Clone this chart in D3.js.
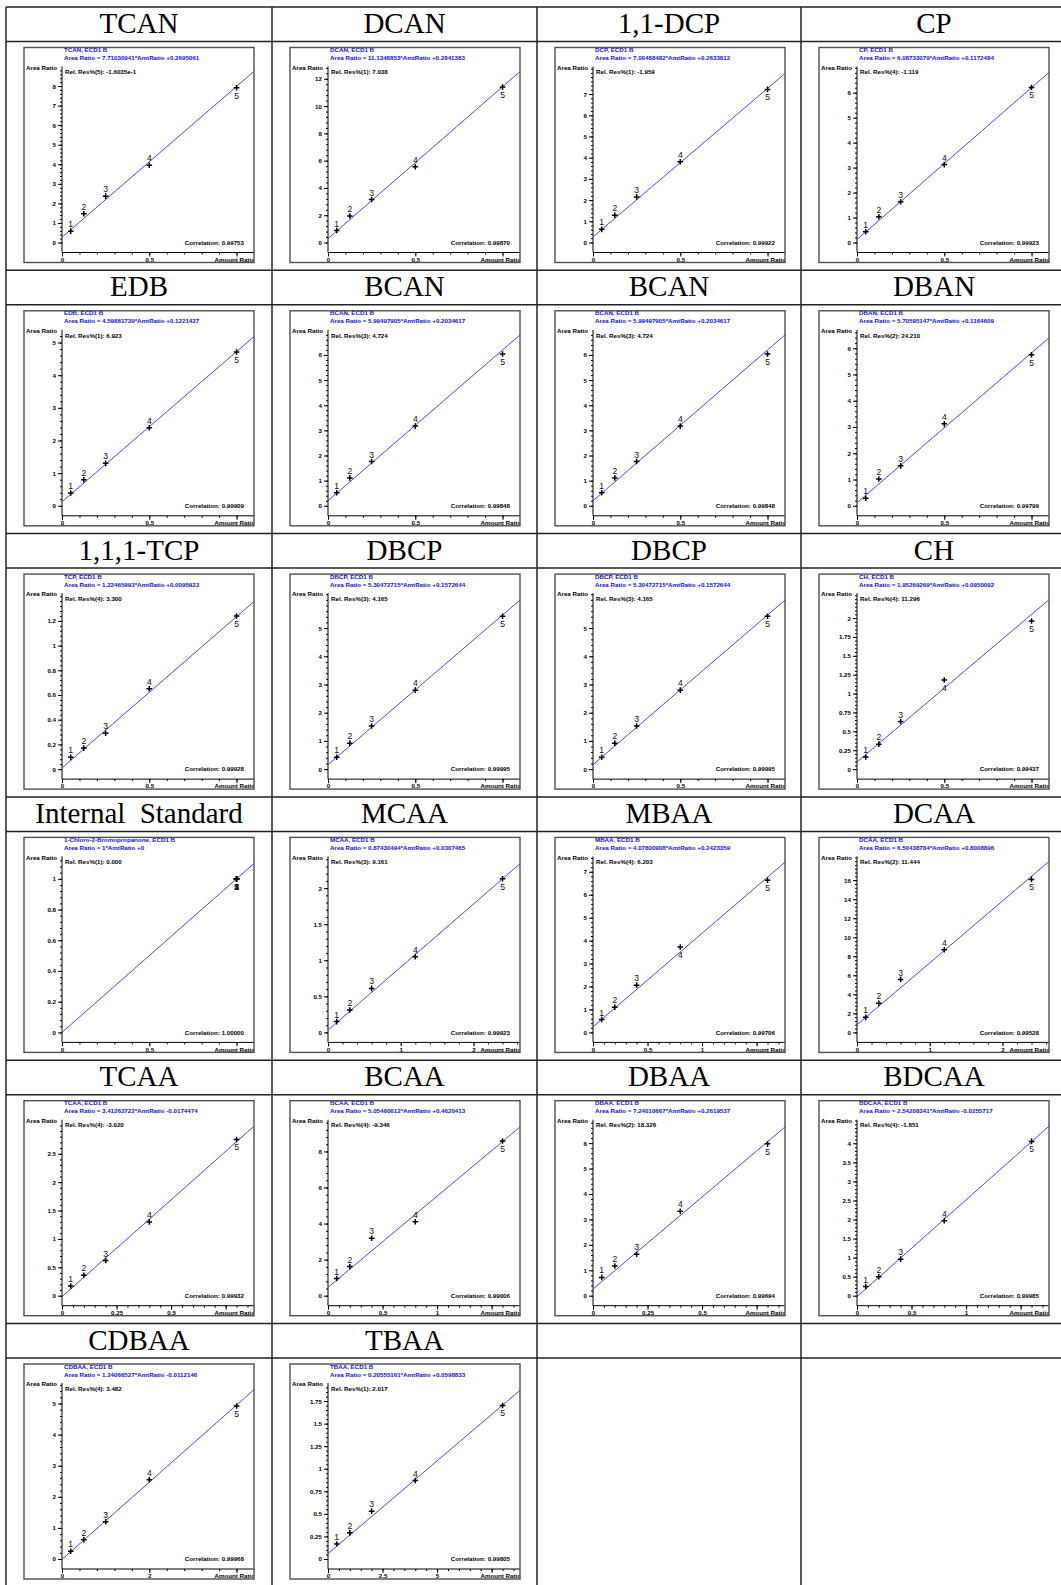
<!DOCTYPE html>
<html>
<head>
<meta charset="utf-8">
<script src="https://d3js.org/d3.v7.min.js"></script>
<style>
  body { margin: 0; background: #fff; }
  svg { display: block; }
</style>
</head>
<body>
<div id="chart"></div>
<script>
// headers of the table cells, in reading order
const names = ["TCAN", "DCAN", "1,1-DCP", "CP",
  "EDB", "BCAN", "BCAN", "DBAN",
  "1,1,1-TCP", "DBCP", "DBCP", "CH",
  "Internal Standard", "MCAA", "MBAA", "DCAA",
  "TCAA", "BCAA", "DBAA", "BDCAA",
  "CDBAA", "TBAA"];

// compound name printed in each plot title
const compounds = ["TCAN", "DCAN", "DCP", "CP",
  "EDB", "BCAN", "BCAN", "DBAN",
  "TCP", "DBCP", "DBCP", "CH",
  "1-Chloro-2-Bromopropanone", "MCAA", "MBAA", "DCAA",
  "TCAA", "BCAA", "DBAA", "BDCAA",
  "CDBAA", "TBAA"];

// fitted line: Area Ratio = slope*AmtRatio + intercept
const slopes = [7.71030941, 11.1348853, 7.00488482, 6.08733079,
  4.59881739, 5.99497905, 5.99497905, 5.70595147,
  1.22465993, 5.30472715, 5.30472715, 1.95269269,
  1, 0.87430494, 4.07800908, 6.50438784,
  3.41263722, 5.05460612, 7.24010667, 2.54208341,
  1.24066527, 0.20555161];
const intercepts = [0.2695061, 0.2841383, 0.2633812, 0.1172484,
  0.1221427, 0.2034617, 0.2034617, 0.1164609,
  0.0095923, 0.1572644, 0.1572644, 0.0950092,
  0, 0.0307465, 0.2423359, 0.8008896,
  -0.0174474, 0.4620413, 0.2619537, -0.0255717,
  -0.0112146, 0.0598833];

const relRes = ["Rel. Res%(5): -1.6035e-1", "Rel. Res%(1): 7.038", "Rel. Res%(1): -1.959", "Rel. Res%(4): -1.119",
  "Rel. Res%(1): 6.923", "Rel. Res%(3): 4.724", "Rel. Res%(3): 4.724", "Rel. Res%(2): 24.210",
  "Rel. Res%(4): 3.300", "Rel. Res%(3): 4.165", "Rel. Res%(3): 4.165", "Rel. Res%(4): 11.296",
  "Rel. Res%(1): 0.000", "Rel. Res%(3): 9.161", "Rel. Res%(4): 6.203", "Rel. Res%(2): 11.444",
  "Rel. Res%(4): -3.020", "Rel. Res%(4): -9.346", "Rel. Res%(2): 18.326", "Rel. Res%(4): -1.851",
  "Rel. Res%(4): 3.482", "Rel. Res%(1): 2.017"];

const correlations = ["0.99753", "0.99870", "0.99922", "0.99923",
  "0.99909", "0.99848", "0.99848", "0.99799",
  "0.99928", "0.99995", "0.99995", "0.99437",
  "1.00000", "0.99923", "0.99706", "0.99528",
  "0.99932", "0.99006", "0.99694", "0.99985",
  "0.99968", "0.99805"];

// calibration levels (amount ratio) and measured area ratios
const xPoints = [
  [0.05, 0.125, 0.25, 0.5, 1], [0.05, 0.125, 0.25, 0.5, 1], [0.05, 0.125, 0.25, 0.5, 1], [0.05, 0.125, 0.25, 0.5, 1],
  [0.05, 0.125, 0.25, 0.5, 1], [0.05, 0.125, 0.25, 0.5, 1], [0.05, 0.125, 0.25, 0.5, 1], [0.05, 0.125, 0.25, 0.5, 1],
  [0.05, 0.125, 0.25, 0.5, 1], [0.05, 0.125, 0.25, 0.5, 1], [0.05, 0.125, 0.25, 0.5, 1], [0.05, 0.125, 0.25, 0.5, 1],
  [1, 1, 1, 1, 1], [0.12, 0.3, 0.6, 1.2, 2.4], [0.08, 0.2, 0.4, 0.8, 1.6], [0.12, 0.3, 0.6, 1.2, 2.4],
  [0.04, 0.1, 0.2, 0.4, 0.8], [0.08, 0.2, 0.4, 0.8, 1.6], [0.04, 0.1, 0.2, 0.4, 0.8], [0.08, 0.2, 0.4, 0.8, 1.6],
  [0.2, 0.5, 1, 2, 4], [0.4, 1, 2, 4, 8]];
const yPoints = [
  [0.58, 1.47, 2.37, 3.95, 7.91], [0.88, 1.94, 3.15, 5.55, 11.4], [0.62, 1.29, 2.15, 3.81, 7.22], [0.43, 1.03, 1.63, 3.12, 6.21],
  [0.39, 0.80, 1.30, 2.39, 4.71], [0.52, 1.11, 1.76, 3.17, 6.04], [0.52, 1.11, 1.76, 3.17, 6.04], [0.29, 1.02, 1.52, 3.12, 5.75],
  [0.095, 0.17, 0.29, 0.65, 1.24], [0.42, 0.92, 1.53, 2.80, 5.42], [0.42, 0.92, 1.53, 2.80, 5.42], [0.16, 0.33, 0.63, 1.18, 1.96],
  [1, 1, 1, 1, 1], [0.15, 0.31, 0.61, 1.05, 2.13], [0.56, 1.10, 2.06, 3.72, 6.63], [1.58, 3.06, 5.57, 8.69, 16.08],
  [0.17, 0.36, 0.62, 1.30, 2.75], [0.95, 1.62, 3.19, 4.10, 8.58], [0.72, 1.17, 1.63, 3.32, 5.97], [0.24, 0.50, 0.96, 1.97, 4.05],
  [0.25, 0.62, 1.20, 2.55, 4.92], [0.166, 0.29, 0.53, 0.87, 1.70]];

// point numbers whose label sits under the marker
const labelsBelow = [[5], [5], [5], [5], [5], [5], [5], [5], [5], [5], [5], [4, 5],
  [1, 2, 3, 4, 5], [5], [4, 5], [5], [5], [5], [5], [5], [5], [5]];

// axis extents and major tick steps
const xMaxes = [1.1, 1.1, 1.1, 1.1, 1.1, 1.1, 1.1, 1.1, 1.1, 1.1, 1.1, 1.1,
  1.1, 2.64, 1.76, 2.64, 0.88, 1.76, 0.88, 1.76, 4.4, 8.8];
const yTops = [9.0, 12.9, 8.3, 7.05, 5.39, 7.0, 7.0, 6.7, 1.425, 6.24, 6.24, 2.33,
  1.146, 2.44, 7.67, 18.5, 3.1, 9.76, 6.92, 4.62, 5.66, 1.95];
const xSteps = [0.5, 0.5, 0.5, 0.5, 0.5, 0.5, 0.5, 0.5, 0.5, 0.5, 0.5, 0.5,
  0.5, 1, 0.5, 1, 0.25, 0.5, 0.25, 0.5, 2, 2.5];
const ySteps = [1, 2, 1, 1, 1, 1, 1, 1, 0.2, 1, 1, 0.25,
  0.2, 0.5, 1, 2, 0.5, 2, 1, 0.5, 1, 0.25];

// page layout
const W = 1061, H = 1585;
const colX = [6, 272, 537, 801, 1067];
const rowY0 = 7, rowPitch = 263.3, headH = 34.5;
const boxW = 230, boxH = 215;
const axX = 38, topY = 19, zeroY = boxH - 20, axisY = boxH - 10;
const smallFont = "Liberation Sans, Arial, sans-serif";
const blue = "#1010f0";

const svg = d3.select("#chart").append("svg")
  .attr("width", W).attr("height", H);
svg.append("rect").attr("width", W).attr("height", H).attr("fill", "#fff");

// table grid
const nRows = 6;
const grid = svg.append("g").attr("stroke", "#222").attr("stroke-width", 1.5);
for (let r = 0; r < nRows; r++) {
  const top = rowY0 + r * rowPitch;
  grid.append("line").attr("x1", colX[0]).attr("x2", colX[4]).attr("y1", top).attr("y2", top);
  grid.append("line").attr("x1", colX[0]).attr("x2", colX[4]).attr("y1", top + headH).attr("y2", top + headH);
}
colX.forEach(cx => {
  grid.append("line").attr("x1", cx).attr("x2", cx).attr("y1", rowY0).attr("y2", H);
});

const fmt = d3.format("~g");

names.forEach((name, i) => {
  const col = i % 4, row = Math.floor(i / 4);
  const rowTop = rowY0 + row * rowPitch;

  // header cell
  svg.append("text")
    .attr("x", (colX[col] + colX[col + 1]) / 2)
    .attr("y", rowTop + 26)
    .attr("text-anchor", "middle")
    .attr("font-family", "Liberation Serif, Times New Roman, serif")
    .attr("font-size", 29)
    .attr("word-spacing", name.includes(" ") ? 7 : 0)
    .text(name);

  const g = svg.append("g")
    .attr("transform", `translate(${colX[col] + 18},${rowTop + headH + 6})`)
    .attr("font-family", smallFont);

  const clipId = "clip" + i, plotClip = "pclip" + i;
  g.append("clipPath").attr("id", clipId)
    .append("rect").attr("width", boxW).attr("height", boxH);
  g.append("clipPath").attr("id", plotClip)
    .append("rect").attr("x", axX).attr("y", 0).attr("width", boxW - axX).attr("height", axisY);

  const inner = g.append("g").attr("clip-path", `url(#${clipId})`);

  const x = d3.scaleLinear().domain([0, xMaxes[i]]).range([axX, boxW]);
  const y = d3.scaleLinear().domain([0, yTops[i]]).range([zeroY, topY]);

  // y axis
  const yMajor = d3.range(0, yTops[i], ySteps[i]).map(v => +v.toFixed(6))
    .filter(v => y(v) >= topY + 8);
  const yMinor = d3.range(0, yTops[i], ySteps[i] / 5).map(v => +v.toFixed(6));
  const yAx = inner.append("g").attr("transform", `translate(${axX},0)`);
  yAx.append("g").call(d3.axisLeft(y).tickValues(yMinor).tickSize(2).tickFormat(""))
    .call(a => a.select(".domain").remove());
  yAx.append("g").call(d3.axisLeft(y).tickValues(yMajor).tickSize(4).tickPadding(2).tickFormat(fmt))
    .call(a => a.select(".domain").remove())
    .call(a => a.selectAll("text").attr("font-size", 6.2).attr("font-weight", "bold").attr("font-family", smallFont));

  // x axis
  const xMajor = d3.range(0, xMaxes[i], xSteps[i]).map(v => +v.toFixed(6));
  const xMinor = d3.range(0, xMaxes[i], xSteps[i] / 5).map(v => +v.toFixed(6));
  const xAx = inner.append("g").attr("transform", `translate(0,${axisY})`);
  xAx.append("g").call(d3.axisBottom(x).tickValues(xMinor).tickSize(2).tickFormat(""))
    .call(a => a.select(".domain").remove());
  xAx.append("g").call(d3.axisBottom(x).tickValues(xMajor).tickSize(4).tickPadding(1)
      .tickFormat(v => (x(v) + 3 > boxW - 42) ? "" : fmt(v)))
    .call(a => a.select(".domain").remove())
    .call(a => a.selectAll("text").attr("font-size", 6.2).attr("font-weight", "bold").attr("font-family", smallFont));

  inner.append("line").attr("x1", axX).attr("x2", axX).attr("y1", topY).attr("y2", axisY)
    .attr("stroke", "#000");
  inner.append("line").attr("x1", axX).attr("x2", boxW).attr("y1", axisY).attr("y2", axisY)
    .attr("stroke", "#000");

  // texts
  const txt = (tx, ty, s, color, anchor) => inner.append("text")
    .attr("x", tx).attr("y", ty)
    .attr("font-size", 6.2).attr("font-weight", "bold")
    .attr("fill", color).attr("text-anchor", anchor || "start")
    .text(s);
  const b = intercepts[i];
  txt(40, 4.6, compounds[i] + ", ECD1 B", blue);
  txt(40, 12.6, "Area Ratio = " + slopes[i] + "*AmtRatio " + (b < 0 ? "" : "+") + b, blue);
  txt(2, 22.3, "Area Ratio", "#000");
  txt(41, 26.8, relRes[i], "#000");
  txt(220, zeroY + 2.2, "Correlation: " + correlations[i], "#000", "end");
  txt(boxW + 1, axisY + 9.4, "Amount Ratio", "#000", "end");

  // fitted line
  inner.append("g").attr("clip-path", `url(#${plotClip})`)
    .append("path")
    .datum([0, xMaxes[i]])
    .attr("d", d3.line().x(d => x(d)).y(d => y(slopes[i] * d + b)))
    .attr("stroke", "#4646ff").attr("stroke-width", 1).attr("fill", "none");

  // calibration points
  const pts = xPoints[i].map((xv, k) => ({ x: xv, y: yPoints[i][k], n: k + 1 }));
  inner.selectAll("path.pt").data(pts).enter().append("path")
    .attr("class", "pt")
    .attr("d", d => {
      const px = x(d.x), py = y(d.y);
      return `M${px - 2.8},${py}h5.6M${px},${py - 2.8}v5.6`;
    })
    .attr("stroke", "#000").attr("stroke-width", 1.5);
  inner.selectAll("text.lbl").data(pts).enter().append("text")
    .attr("class", "lbl")
    .attr("x", d => x(d.x))
    .attr("y", d => labelsBelow[i].includes(d.n) ? y(d.y) + 10.8 : y(d.y) - 3.9)
    .attr("text-anchor", "middle")
    .attr("font-size", 8.6)
    .attr("fill", "#111")
    .text(d => d.n);

  // plot frame
  g.append("rect").attr("width", boxW).attr("height", boxH)
    .attr("fill", "none").attr("stroke", "#505050").attr("stroke-width", 1.4);
});
</script>
</body>
</html>
